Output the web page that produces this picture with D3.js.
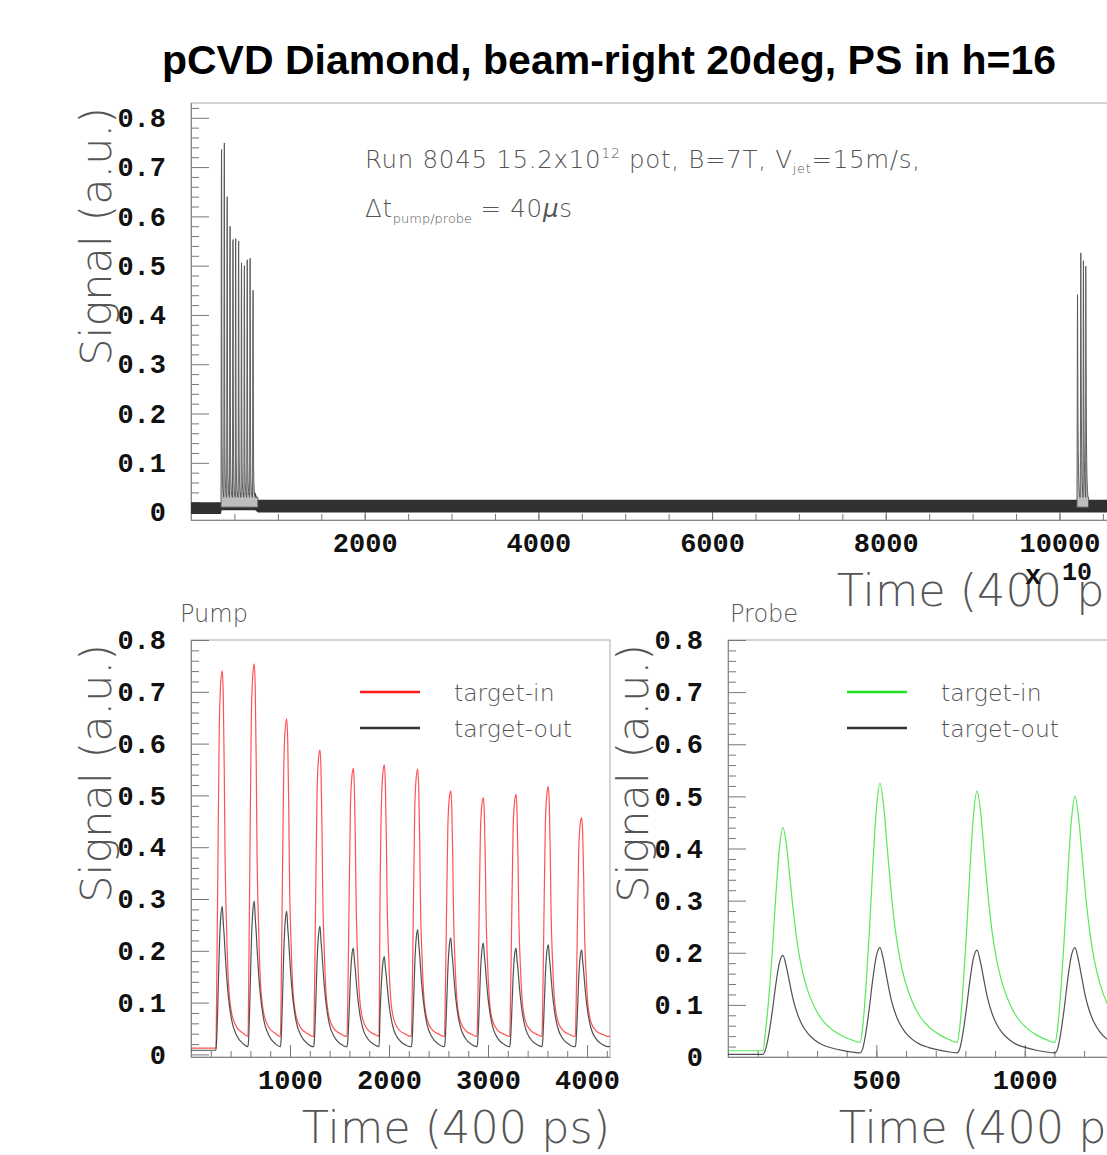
<!DOCTYPE html>
<html>
<head>
<meta charset="utf-8">
<script src="https://cdn.jsdelivr.net/npm/d3@7/dist/d3.min.js"></script>
<style>
  body { margin: 0; background: #fff; }
  .tick text { font-family: "Liberation Mono", "DejaVu Sans Mono", monospace; font-weight: bold; font-size: 27px; fill: #111; }
  .tick line { stroke: #777; }
  .domain { stroke: #888; }
  .lbl { font-family: "DejaVu Sans", sans-serif; font-weight: 200; fill: #555; }
</style>
</head>
<body>
<div id="chart"></div>
<script>
// tick labels
const topTicksX = [2000, 4000, 6000, 8000, 10000];
const pumpTicksX = [1000, 2000, 3000, 4000];
const probeTicksX = [500, 1000];
const signalTicks = [0, 0.1, 0.2, 0.3, 0.4, 0.5, 0.6, 0.7, 0.8];

// pump bunches (time in 400 ps bins, signal in a.u.)
const pumpPeakTimes = [316, 639, 967, 1303, 1640, 1953, 2290, 2624, 2953, 3283, 3609, 3946];
const pumpInPeaks = [0.741, 0.754, 0.648, 0.588, 0.552, 0.559, 0.551, 0.509, 0.496, 0.502, 0.517, 0.457];
const pumpOutPeaks = [0.286, 0.296, 0.276, 0.247, 0.205, 0.189, 0.241, 0.225, 0.215, 0.205, 0.212, 0.202];

// probe bunches
const probePeakTimes = [185, 512, 839, 1169];
const probeInPeaks = [0.44, 0.525, 0.51, 0.50];
const probeOutPeaks = [0.195, 0.21, 0.205, 0.21];

// pulse shape: offset from peak (bins), fraction of peak above floor
const pumpPulseOffsets = [-64, -57, -45, -30, -15, 0, 10, 20, 27, 44, 61, 94, 145, 212, 260];
const pumpInShape = [0, 0.12, 0.45, 0.85, 0.97, 1, 0.93, 0.73, 0.52, 0.29, 0.154, 0.064, 0.025, 0.008, 0];
const pumpOutShape = [0, 0.05, 0.3, 0.7, 0.93, 1, 0.88, 0.78, 0.69, 0.5, 0.36, 0.19, 0.08, 0.02, 0];
const probePulseOffsets = [-67, -58, -48, -36, -24, -12, 0, 12, 24, 36, 50, 66, 84, 108, 135, 165, 200, 235, 260];
const probeInShape = [0, 0.06, 0.2, 0.42, 0.68, 0.9, 1, 0.92, 0.76, 0.6, 0.45, 0.33, 0.24, 0.16, 0.1, 0.06, 0.03, 0.01, 0];
const probeOutShape = [0, 0.04, 0.18, 0.42, 0.7, 0.92, 1, 0.88, 0.7, 0.53, 0.39, 0.28, 0.2, 0.13, 0.08, 0.05, 0.025, 0.008, 0];

// levels: before beam / between bunches
const pumpInLevels = [0.012, 0.035];
const pumpOutLevels = [0.008, 0.015];
const probeInLevels = [0.012, 0.028];
const probeOutLevels = [0.005, 0.008];

// full waveform (time in 10 x 400 ps)
const topPumpTimes = [352, 384, 417, 450, 484, 515, 549, 582, 615, 648, 681, 715];
const topPumpPeaks = [0.736, 0.749, 0.64, 0.58, 0.553, 0.555, 0.55, 0.506, 0.50, 0.512, 0.515, 0.45];
const topProbeTimes = [10208, 10246, 10276, 10303];
const topProbePeaks = [0.441, 0.526, 0.51, 0.499];
const topBandTimes = [0, 345, 352, 740, 770, 10195, 10330, 10985];
const topBandLow = [-0.004, -0.004, 0.004, 0.004, -0.001, -0.001, -0.001, -0.001];
const topBandHigh = [0.02, 0.02, 0.04, 0.04, 0.025, 0.025, 0.025, 0.025];

const W = 1107, H = 1155;
const svg = d3.select('#chart').append('svg').attr('width', W).attr('height', H);

function pulseTrain(times, peaks, offsets, shape, levels, t0, t1, s) {
    let pts = [[t0, levels[0]]];
    times.forEach((t, i) => {
        offsets.forEach((o, k) => {
            let x = t + o * s;
            let v = levels[1] + (peaks[i] - levels[1]) * shape[k];
            if (i === 0 && k === 0) { pts.push([x, levels[0]]); }
            if (x > pts[pts.length - 1][0]) pts.push([x, v]);
        });
    });
    pts.push([t1, levels[1]]);
    return pts;
}

function frame(opts) {
    const g = svg.append('g').attr('transform', `translate(${opts.x0},${opts.y0})`);
    const w = opts.x1 - opts.x0, h = opts.y1 - opts.y0;
    const x = d3.scaleLinear().domain(opts.xDomain).range([0, w]);
    const y = d3.scaleLinear().domain(opts.yDomain).range([h, 0]);

    g.append('rect').attr('width', w).attr('height', h)
        .attr('fill', 'none').attr('stroke', '#aaa').attr('stroke-width', 1);

    // minor ticks first
    const yMinor = d3.range(0, opts.yDomain[1] + 1e-9, 0.02).filter(v => Math.abs(v * 10 - Math.round(v * 10)) > 1e-6);
    g.append('g').call(d3.axisLeft(y).tickValues(yMinor).tickSizeInner(-8).tickSizeOuter(0).tickFormat(''));
    g.append('g').call(d3.axisLeft(y).tickValues(signalTicks).tickSizeInner(-18).tickSizeOuter(0)
        .tickPadding(25).tickFormat(d => d === 0 ? '0' : d3.format('.1f')(d)));

    const xMinor = d3.range(opts.xMinorStep, opts.xDomain[1], opts.xMinorStep);
    g.append('g').attr('transform', `translate(0,${h})`)
        .call(d3.axisBottom(x).tickValues(xMinor).tickSizeInner(-6).tickSizeOuter(0).tickFormat(''));
    g.append('g').attr('transform', `translate(0,${h})`)
        .call(d3.axisBottom(x).tickValues(opts.xTicks).tickSizeInner(-12).tickSizeOuter(0)
            .tickPadding(13).tickFormat(d3.format('d')));

    g.selectAll('.domain').attr('stroke', '#888');

    // axis titles
    g.append('text').attr('class', 'lbl').attr('font-size', 43)
        .attr('text-anchor', 'end')
        .attr('transform', `translate(-80,4) rotate(-90)`)
        .text('Signal (a.u.)');
    g.append('text').attr('class', 'lbl').attr('font-size', 44.5)
        .attr('text-anchor', 'end')
        .attr('x', w).attr('y', h + 86)
        .text('Time (400 ps)');

    return { g, x, y, w, h };
}

// title
svg.append('text').attr('x', 609).attr('y', 74).attr('text-anchor', 'middle')
    .attr('font-family', 'Liberation Sans, Arial, sans-serif').attr('font-weight', 'bold')
    .attr('font-size', 41).text('pCVD Diamond, beam-right 20deg, PS in h=16');

// ---- top panel: full spill
const spill = frame({ x0: 191, x1: 1145, y0: 103, y1: 520, xDomain: [0, 10985], yDomain: [-0.016, 0.83],
    xTicks: topTicksX, xMinorStep: 500 });

const band = topBandTimes.map((t, i) => [t, topBandLow[i], topBandHigh[i]]);
spill.g.append('path').datum(band)
    .attr('fill', '#303030')
    .attr('d', d3.area().x(d => spill.x(d[0])).y0(d => spill.y(d[1])).y1(d => spill.y(d[2])));

const spillPump = pulseTrain(topPumpTimes, topPumpPeaks, pumpPulseOffsets, pumpInShape, [0.01, 0.03], 340, 770, 0.1);
const spillProbe = pulseTrain(topProbeTimes, topProbePeaks, probePulseOffsets, probeInShape, [0.01, 0.03], 10195, 10335, 0.1);
[spillPump, spillProbe].forEach(pts => {
    spill.g.append('path').datum(pts)
        .attr('fill', '#bdbdbd').attr('stroke', '#555').attr('stroke-width', 0.9)
        .attr('d', d3.area().x(d => spill.x(d[0])).y0(spill.y(0.01)).y1(d => spill.y(d[1])));
});

// exponent of the time axis
svg.append('text').attr('x', 1025).attr('y', 584)
    .attr('font-family', 'Liberation Mono, monospace').attr('font-weight', 'bold')
    .attr('font-size', 27).attr('fill', '#111').text('x');
svg.append('text').attr('x', 1062).attr('y', 580)
    .attr('font-family', 'Liberation Mono, monospace').attr('font-weight', 'bold')
    .attr('font-size', 25).attr('fill', '#111').text('10');

// run info
const info = svg.append('text').attr('class', 'lbl').attr('x', 365).attr('y', 168)
    .attr('font-size', 24.5).attr('letter-spacing', 0.7).attr('fill', '#444');
info.append('tspan').text('Run 8045 15.2x10');
info.append('tspan').attr('font-size', 14).attr('dy', -10).text('12');
info.append('tspan').attr('dy', 10).text(' pot, B=7T, V');
info.append('tspan').attr('font-size', 13).attr('dy', 5).text('jet');
info.append('tspan').attr('dy', -5).text('=15m/s,');

const dt = svg.append('text').attr('class', 'lbl').attr('x', 365).attr('y', 217)
    .attr('font-size', 24.5).attr('letter-spacing', 0.7).attr('fill', '#444');
dt.append('tspan').text('\u0394t');
dt.append('tspan').attr('font-size', 13).attr('letter-spacing', 0).attr('dy', 6).text('pump/probe');
dt.append('tspan').attr('dy', -6).text(' = 40');
dt.append('tspan').attr('font-style', 'italic').text('\u03bc');
dt.append('tspan').text('s');

// ---- bottom panels
function pulsePanel(opts) {
    const p = frame(opts);
    const line = d3.line().curve(d3.curveMonotoneX).x(d => p.x(d[0])).y(d => p.y(d[1]));
    const tEnd = opts.xDomain[1];

    const inPts = pulseTrain(opts.times, opts.inPeaks, opts.offsets, opts.inShape, opts.inLevels, 0, tEnd, 1);
    const outPts = pulseTrain(opts.times, opts.outPeaks, opts.offsets, opts.outShape, opts.outLevels, 0, tEnd, 1);

    p.g.append('path').datum(inPts).attr('fill', 'none')
        .attr('stroke', opts.color).attr('stroke-width', 1.2).attr('stroke-opacity', 0.75).attr('d', line);
    p.g.append('path').datum(outPts).attr('fill', 'none')
        .attr('stroke', '#333').attr('stroke-width', 1.2).attr('stroke-opacity', 0.85).attr('d', line);

    // panel name
    svg.append('text').attr('class', 'lbl').attr('x', opts.nameX).attr('y', 622)
        .attr('font-size', 24).attr('fill', '#444').text(opts.name);

    // legend
    const lg = svg.append('g').attr('transform', `translate(${opts.legendX},0)`);
    [[opts.color, 'target-in', 692], ['#333', 'target-out', 728]].forEach(e => {
        lg.append('line').attr('x1', 0).attr('x2', 60).attr('y1', e[2]).attr('y2', e[2])
            .attr('stroke', e[0]).attr('stroke-width', 2.5);
        lg.append('text').attr('class', 'lbl').attr('x', 94).attr('y', e[2] + 9)
            .attr('font-size', 23.5).attr('fill', '#444').text(e[1]);
    });
}

pulsePanel({ name: 'Pump', nameX: 180, legendX: 360, x0: 191, x1: 610, y0: 640, y1: 1057,
    xDomain: [0, 4232], yDomain: [-0.005, 0.8],
    xTicks: pumpTicksX, xMinorStep: 200, color: '#ff1a1a',
    times: pumpPeakTimes, inPeaks: pumpInPeaks, outPeaks: pumpOutPeaks,
    offsets: pumpPulseOffsets, inShape: pumpInShape, outShape: pumpOutShape,
    inLevels: pumpInLevels, outLevels: pumpOutLevels });

pulsePanel({ name: 'Probe', nameX: 730, legendX: 847, x0: 728, x1: 1147, y0: 640, y1: 1057,
    xDomain: [0, 1412], yDomain: [0, 0.8],
    xTicks: probeTicksX, xMinorStep: 100, color: '#22e022',
    times: probePeakTimes, inPeaks: probeInPeaks, outPeaks: probeOutPeaks,
    offsets: probePulseOffsets, inShape: probeInShape, outShape: probeOutShape,
    inLevels: probeInLevels, outLevels: probeOutLevels });
</script>
</body>
</html>
